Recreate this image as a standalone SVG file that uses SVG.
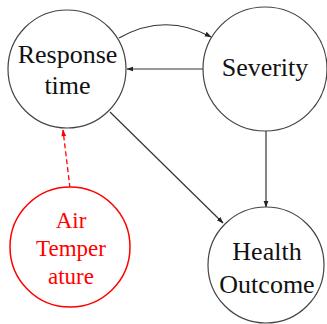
<svg xmlns="http://www.w3.org/2000/svg" width="327" height="324" viewBox="0 0 327 324">
<defs>
<style>
.node{fill:#fff;stroke:#444;stroke-width:1.2}
.lbl{font-family:'Liberation Serif','DejaVu Serif',serif;font-size:26px;fill:#111;text-anchor:middle}
.red{fill:#fff;stroke:#f00;stroke-width:1.5}
.rlbl{font-family:'Liberation Serif','DejaVu Serif',serif;font-size:23px;fill:#f00;text-anchor:middle}
.edge{fill:none;stroke:#333;stroke-width:1.2}
.dash{fill:none;stroke:#f00;stroke-width:1.3;stroke-dasharray:5 3}
</style>
<marker id="ah" viewBox="0 0 10 10" refX="9" refY="5" markerWidth="7" markerHeight="7" orient="auto" markerUnits="userSpaceOnUse">
<path d="M0,1.5 L10,5 L0,8.5 Z" fill="#222"/>
</marker>
<marker id="ahr" viewBox="0 0 10 10" refX="9" refY="5" markerWidth="7" markerHeight="7" orient="auto" markerUnits="userSpaceOnUse">
<path d="M0,1.5 L10,5 L0,8.5 Z" fill="#f00"/>
</marker>
</defs>
<rect width="327" height="324" fill="#fff"/>
<g id="edges">
<path class="edge" d="M119,38 Q165,12 211,37" marker-end="url(#ah)"/>
<path class="edge" d="M203,69 L127,69" marker-end="url(#ah)"/>
<path class="edge" d="M110,112 L223,223" marker-end="url(#ah)"/>
<path class="edge" d="M266,131 L266,207" marker-end="url(#ah)"/>
<path class="dash" d="M70,188 L63,130" marker-end="url(#ahr)"/>
</g>
<g id="response">
<circle class="node" cx="67" cy="69" r="59"/>
<text class="lbl" x="67.5" y="63" font-family="Liberation Serif">Response</text>
<text class="lbl" x="67.5" y="94" font-family="Liberation Serif">time</text>
</g>
<g id="severity">
<circle class="node" cx="265" cy="69" r="62"/>
<text class="lbl" x="265" y="76" font-family="Liberation Serif">Severity</text>
</g>
<g id="health">
<circle class="node" cx="266" cy="265" r="58"/>
<text class="lbl" x="267" y="260" font-family="Liberation Serif">Health</text>
<text class="lbl" x="267" y="293" font-family="Liberation Serif">Outcome</text>
</g>
<g id="air">
<circle class="red" cx="70" cy="247" r="60"/>
<text class="rlbl" x="71" y="228" font-family="Liberation Serif">Air</text>
<text class="rlbl" x="71" y="256" font-family="Liberation Serif">Temper</text>
<text class="rlbl" x="71" y="284" font-family="Liberation Serif">ature</text>
</g>
</svg>
